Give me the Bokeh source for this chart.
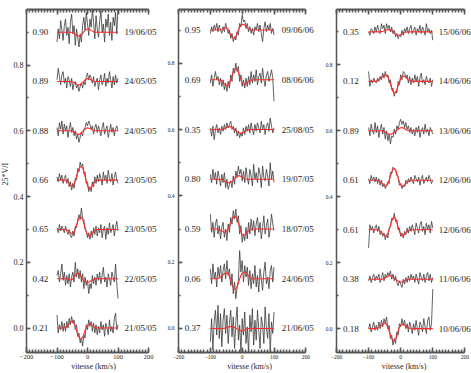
import math
from bokeh.plotting import figure
from bokeh.models import Range1d, LinearAxis, SingleIntervalTicker, PrintfTickFormatter, Label
from bokeh.layouts import row
from bokeh.embed import file_html
from bokeh.resources import INLINE

# ---------------- data ----------------
vel_obs = list(range(-100, 101, 4))   # km/s, observed LSD profiles
vel_fit = list(range(-100, 101, 5))   # km/s, model profiles
offsets = [0.90, 0.75, 0.60, 0.45, 0.30, 0.15, 0.00]   # vertical shifts (25*V/I)
x_ticks_interval = 100
y_ticks_interval = 0.2

p1_phases = ["0.90", "0.89", "0.88", "0.66", "0.65", "0.42", "0.21"]
p1_dates = ["19/06/05", "24/05/05", "24/05/05", "23/05/05", "23/05/05", "22/05/05", "21/05/05"]
p2_phases = ["0.95", "0.69", "0.35", "0.80", "0.59", "0.06", "0.37"]
p2_dates = ["09/06/06", "08/06/06", "25/08/05", "19/07/05", "18/07/05", "24/06/05", "21/06/05"]
p3_phases = ["0.35", "0.12", "0.89", "0.61", "0.61", "0.38", "0.18"]
p3_dates = ["15/06/06", "14/06/06", "13/06/06", "12/06/06", "12/06/06", "11/06/06", "10/06/06"]

# observed profiles, units of 0.001 (25*V/I), relative to their offset
p1_obs = [
    [-30, 10, -20, 35, 5, -25, 20, 40, -10, 15, -35, 30, 55, -5, 20, -40, 10, -15, -45, -5, -30, 20, 45, 5, 60, 25, -10, 40, 15, 70, 30, -20, 50, 10, -15, 35, 65, 0, 25, -30, 40, 15, 55, -10, 30, -25, 45, 20, 60, -5, 75],
    [5, 40, 15, -10, 20, 30, -5, 10, -20, 15, 5, -15, 10, -25, -5, 0, -20, -10, -30, -15, -5, -20, 0, -10, 15, 25, 5, 20, 10, -5, 15, -15, 0, 10, -25, 5, 20, -10, 0, 25, -15, 10, -5, 30, 5, -20, 15, -10, 20, -5, 10],
    [10, -15, 25, 5, 30, -10, 20, 0, 15, -20, 5, 25, -5, 10, -15, 0, -25, -10, -35, -20, -5, -15, 5, 10, 25, 15, 30, 20, 5, 15, -10, 10, 20, -5, 15, 0, -15, 10, 25, -10, 5, 15, -20, 0, 20, -5, 10, -15, 5, 15, 0],
    [10, -5, 20, 0, 15, -10, 5, 15, -10, 5, -20, -5, -30, -10, -25, 5, 0, 35, 25, 55, 40, 50, 20, 25, -10, -5, -35, -20, -35, -5, -20, 10, -10, 15, -5, 20, 5, -15, 25, 0, 15, -10, 30, 5, -5, 20, -15, 10, 25, 0, -10],
    [5, -10, 15, -5, 10, 0, -10, 10, -5, -15, 0, -20, -25, -5, -20, 10, 5, 30, 45, 30, 65, 35, 30, 0, -5, -25, -10, -30, -5, -25, 5, -15, 10, -20, 5, -10, 15, -25, 0, 10, -30, 5, -15, 20, -10, 0, 15, -20, 5, 25, -5],
    [10, 25, -10, 15, 45, -5, 20, -20, 10, -15, 15, -25, 5, 20, -10, 50, 5, 30, 0, 25, -10, 15, -30, 5, -20, -5, -45, -15, -30, 10, -15, 5, -20, 15, -5, 20, -15, 10, 35, -10, 5, -25, 15, 0, -20, 20, 5, -10, 45, -15, -60],
    [40, -15, 10, -5, 20, -10, 15, -10, 20, 0, 30, 10, 35, 15, 25, -5, 10, -25, -15, -45, -30, -55, -20, -30, 10, -5, 25, 5, 20, -10, 15, -15, 10, -20, 5, -15, 20, -5, 10, -25, 15, 0, -20, 25, -10, 5, -15, 30, 45, -5, 10],
]
p2_obs = [
    [-10, 10, -5, 15, 0, 20, -5, 15, 0, -10, 10, -5, 20, 5, -10, 0, -25, -10, -35, -20, -30, -5, -15, 20, 10, 45, 25, 30, 5, 20, -5, 10, -10, 5, -15, 10, 0, 20, -5, 15, -10, -35, 5, 25, -5, 15, 0, 20, -10, 5, -15],
    [-10, 15, -20, 5, 25, 0, 10, -15, 5, -20, 0, -30, -10, -35, -5, -25, 15, -5, 35, 20, 50, 25, 40, -5, 15, -20, 0, -25, 5, -20, 10, -15, 25, -10, 15, -5, 30, -15, 10, 20, -10, 35, 0, -20, 15, 25, -5, 10, 30, 5, -65],
    [5, -20, 10, -30, 0, 15, -10, 5, -15, 10, -5, 15, 0, 20, 5, 15, 25, 0, 10, -10, 5, -20, -5, -25, -10, -20, 5, -15, 10, -5, 15, -10, 20, 0, -15, 15, -5, 20, 5, -10, 25, 0, 15, -15, 10, 20, -5, 35, 10, -10, 5],
    [15, -10, 30, 0, 20, -15, 25, 5, -20, 15, -10, 20, -25, 0, -30, -15, -5, -25, 10, -15, 25, 5, 40, 15, 30, -5, 25, -10, 35, 5, -15, 30, 10, -20, 45, 0, 20, -10, 35, 15, -25, 40, 5, -5, 30, 10, -20, 50, 0, 25, -10],
    [45, -10, 20, -25, 15, 30, -15, 10, -30, 5, 20, -25, 0, -35, 15, -10, 35, 15, 55, 30, 60, 20, 40, -15, 10, -40, -15, -35, 5, -30, 20, -15, 30, -5, 25, -20, 15, 35, -10, 20, -30, 5, 40, -15, 10, 30, -25, 0, 45, 15, -5],
    [30, -15, 45, 0, 20, -25, 35, 5, 40, -10, 25, 45, 0, 55, 10, 30, -20, 15, -45, -10, -60, -25, -5, 85, 20, 55, -10, 40, 5, 35, -20, 25, -30, 15, -15, 40, -25, 10, -40, 30, 0, -35, 20, 50, -15, 5, -30, 25, 40, -10, 35],
    [-40, 30, -65, 20, 55, -20, 70, -30, 45, -55, 25, 60, -15, 40, -45, 15, 55, -25, 35, -60, 20, 65, -35, 10, -70, 30, -20, 50, -45, 5, -75, 40, -10, 60, -50, 25, -35, 55, -5, -60, 35, 10, -45, 65, 0, -30, 45, -70, 20, -15, 50],
]
p3_obs = [
    [0, -10, 10, 5, -5, 15, 0, 20, 5, -5, 25, 10, 20, -5, 25, 10, 20, 0, 15, -5, 5, -15, -5, -20, -10, -15, 5, -10, 10, 0, 15, -5, 10, 20, -5, 5, 15, -10, 10, 0, 20, -5, 15, 5, -10, 25, 0, 10, -5, 5, -25],
    [30, -15, 5, -5, 10, 0, -5, 10, 0, 15, 5, 25, 10, 30, 15, 20, -5, 5, -25, -20, -45, -30, -35, 0, -10, 20, 5, 30, 25, 10, 20, -5, 15, -10, 10, -5, 20, 0, 15, -15, 10, 25, -5, 5, -10, 15, 0, -5, 10, -15, 5],
    [10, -15, 20, 0, -10, 25, -5, 15, -20, 5, 20, -10, 10, -25, 0, -30, -10, -40, -15, -20, 5, -10, 15, 5, 25, 35, 20, 30, 10, 25, 5, 15, -5, 10, -10, 5, -15, 10, -5, 15, -20, 0, 10, -10, 20, -5, 5, -15, 10, 0, -10],
    [5, -10, 15, 0, 10, -5, 10, -10, 5, -15, 0, -20, -10, -25, -15, -5, -10, 25, 20, 40, 35, 30, 15, 10, -15, -10, -25, -15, -20, 0, -10, 5, -5, 10, 0, -10, 15, 5, -5, 10, -15, 5, 15, -10, 0, 10, -5, 15, 5, -10, 0],
    [-55, 15, 0, 10, -10, 5, 15, -5, 10, -15, -5, -20, -10, -30, -15, -25, 5, 10, 35, 30, 50, 25, 30, 0, 5, -20, -10, -25, -5, -15, 5, -10, 10, -5, 15, 0, -15, 20, 5, -10, 15, 25, -5, 10, -15, 20, 0, 15, -10, 25, 5],
    [-5, 10, -10, 5, 15, -5, 10, 0, 15, -10, 5, 20, -5, 15, 5, 20, 10, 25, 0, 15, -5, 10, -10, -20, -5, -15, -25, 0, -15, 5, -10, 10, -5, 15, 0, 10, -10, 15, 0, -15, 20, 5, -5, 15, -10, 10, 20, -5, 15, -10, 5],
    [0, 15, -10, 5, 20, -5, 10, -5, 20, 0, 25, 5, 30, 15, 35, 0, 10, -30, -20, -50, -30, -45, -10, -20, 15, 5, 30, 10, 25, 0, 15, -10, 20, 5, -15, 15, -5, 25, 0, -20, 20, 10, -10, 30, 5, -15, 25, 35, -5, 15, 120],
]

# model (fit) profiles, units of 0.001, on vel_fit grid
p1_fit = [
    [0, 0, 0, 0, 0, 0, 0, 0, 0, 0, -1, -3, -7, -10, -12, -11, -7, -2, 3, 7, 10, 10, 7, 4, 1, 0, 0, 0, 0, 0, 0, 0, 0, 0, 0, 0, 0, 0, 0, 0, 0],
    [0, 0, 0, 0, 0, 0, 0, 0, 0, 0, -1, -3, -6, -9, -11, -10, -6, -2, 3, 6, 9, 8, 6, 3, 1, 0, 0, 0, 0, 0, 0, 0, 0, 0, 0, 0, 0, 0, 0, 0, 0],
    [0, 0, 0, 0, 0, 0, 0, 0, 0, 0, -1, -3, -6, -9, -11, -10, -6, -1, 3, 7, 9, 8, 6, 3, 1, 0, 0, 0, 0, 0, 0, 0, 0, 0, 0, 0, 0, 0, 0, 0, 0],
    [0, 0, 0, 0, 0, 0, -1, -4, -10, -17, -19, -14, -2, 14, 30, 39, 41, 36, 20, 0, -17, -26, -26, -18, -9, -4, -1, 0, 0, 0, 0, 0, 0, 0, 0, 0, 0, 0, 0, 0, 0],
    [0, 0, 0, 0, 0, 0, -1, -3, -7, -11, -13, -9, 2, 16, 30, 37, 37, 28, 12, -5, -17, -20, -17, -11, -6, -2, -1, 0, 0, 0, 0, 0, 0, 0, 0, 0, 0, 0, 0, 0, 0],
    [0, 0, 0, 0, 0, 0, 0, -1, -3, -4, -2, 4, 11, 16, 17, 13, 6, -1, -7, -10, -11, -10, -7, -4, -2, -1, 0, 0, 0, 0, 0, 0, 0, 0, 0, 0, 0, 0, 0, 0, 0],
    [0, 0, 0, 0, 0, 1, 3, 8, 14, 19, 20, 15, 4, -10, -24, -32, -33, -27, -13, 1, 9, 12, 12, 9, 5, 2, 1, 0, 0, 0, 0, 0, 0, 0, 0, 0, 0, 0, 0, 0, 0],
]
p2_fit = [
    [0, 0, 0, 0, 0, 0, 0, 1, 3, 6, 7, 3, -7, -17, -24, -25, -19, -7, 5, 13, 17, 17, 13, 7, 3, 1, 0, 0, 0, 0, 0, 0, 0, 0, 0, 0, 0, 0, 0, 0, 0],
    [0, 0, 0, 0, 0, 0, -1, -3, -8, -13, -17, -17, -10, 3, 18, 30, 34, 30, 17, 2, -9, -15, -14, -10, -5, -2, -1, 0, 0, 0, 0, 0, 0, 0, 0, 0, 0, 0, 0, 0, 0],
    [0, 0, 0, 0, 0, 0, 0, 0, 1, 3, 6, 8, 9, 8, 5, 1, -3, -7, -10, -11, -10, -8, -5, -2, -1, 0, 0, 0, 0, 0, 0, 0, 0, 0, 0, 0, 0, 0, 0, 0, 0],
    [0, 0, 0, 0, 0, 0, 0, -1, -3, -6, -8, -10, -10, -8, -4, 1, 6, 10, 11, 9, 6, 3, 1, 0, 0, 0, 0, 0, 0, 0, 0, 0, 0, 0, 0, 0, 0, 0, 0, 0, 0],
    [0, 0, 0, 0, 0, -1, -3, -6, -9, -10, -8, -2, 8, 21, 32, 38, 37, 28, 12, -5, -17, -20, -17, -10, -5, -2, -1, 0, 0, 0, 0, 0, 0, 0, 0, 0, 0, 0, 0, 0, 0],
    [0, 0, 0, 0, 0, 1, 3, 7, 12, 16, 18, 16, 6, -8, -22, -31, -31, -22, -7, 8, 17, 20, 19, 14, 8, 4, 1, 0, 0, 0, 0, 0, 0, 0, 0, 0, 0, 0, 0, 0, 0],
    [0, 0, 0, 0, 0, 0, 0, 0, 0, 1, 2, 4, 5, 6, 6, 4, 1, -2, -5, -7, -7, -5, -3, -1, 0, 0, 0, 0, 0, 0, 0, 0, 0, 0, 0, 0, 0, 0, 0, 0, 0],
]
p3_fit = [
    [0, 0, 0, 0, 0, 0, 0, 0, 1, 2, 4, 6, 7, 7, 5, 1, -3, -7, -9, -10, -9, -6, -3, -1, 0, 0, 0, 0, 0, 0, 0, 0, 0, 0, 0, 0, 0, 0, 0, 0, 0],
    [0, 0, 0, 0, 0, 1, 3, 7, 12, 16, 19, 19, 14, 2, -14, -29, -36, -33, -20, -4, 8, 15, 16, 13, 8, 4, 2, 1, 0, 0, 0, 0, 0, 0, 0, 0, 0, 0, 0, 0, 0],
    [0, 0, 0, 0, 0, 0, 0, 0, 0, -1, -3, -6, -9, -10, -10, -8, -5, -1, 3, 7, 9, 10, 8, 5, 2, 1, 0, 0, 0, 0, 0, 0, 0, 0, 0, 0, 0, 0, 0, 0, 0],
    [0, 0, 0, 0, 0, 0, -1, -3, -7, -12, -16, -17, -11, 3, 19, 32, 36, 30, 15, -2, -14, -19, -17, -11, -6, -3, -1, 0, 0, 0, 0, 0, 0, 0, 0, 0, 0, 0, 0, 0, 0],
    [0, 0, 0, 0, 0, 0, -1, -3, -8, -13, -18, -19, -12, 3, 20, 34, 38, 31, 15, -2, -14, -19, -17, -11, -6, -3, -1, 0, 0, 0, 0, 0, 0, 0, 0, 0, 0, 0, 0, 0, 0],
    [0, 0, 0, 0, 0, 0, 0, 0, 0, 1, 3, 6, 9, 10, 10, 7, 3, -1, -5, -8, -9, -8, -5, -3, -1, 0, 0, 0, 0, 0, 0, 0, 0, 0, 0, 0, 0, 0, 0, 0, 0],
    [0, 0, 0, 0, 0, 1, 3, 6, 10, 14, 16, 14, 5, -10, -26, -35, -37, -30, -14, 2, 10, 13, 12, 9, 5, 2, 1, 0, 0, 0, 0, 0, 0, 0, 0, 0, 0, 0, 0, 0, 0],
]

# ---------------- styling ----------------
FONT = "Liberation Serif"
AX = "#555555"
TXT = "#1e1e1e"
OBS_COLOR = "#3a3a3a"
FIT_COLOR = "#ff2a2a"
FIG_H = 373


def panel(obs, fit, phases, dates, width, bl, bt, bb, px_per_kms, y0, y1,
          ytick_fs, ytick_standoff, xtick_fs, date_x):
    frame_w = width - bl
    x_end = -200 + frame_w / px_per_kms
    p = figure(width=width, height=FIG_H, x_range=Range1d(-200, x_end),
               y_range=Range1d(y0, y1), x_axis_type=None, y_axis_type=None,
               output_backend="svg", toolbar_location=None,
               min_border_left=bl, min_border_right=0,
               min_border_top=bt, min_border_bottom=bb)
    p.outline_line_color = None

    xcommon = dict(axis_line_color=AX, axis_line_width=2,
                   major_tick_line_color=AX, minor_tick_line_color=AX,
                   major_tick_line_width=1.5, minor_tick_line_width=1.5,
                   major_tick_out=0, minor_tick_out=0, bounds=(-200, 200),
                   major_label_text_font=FONT)
    bottom = LinearAxis(ticker=SingleIntervalTicker(interval=x_ticks_interval, num_minor_ticks=10),
                        major_tick_in=5, minor_tick_in=3, major_label_text_color=TXT,
                        major_label_text_font_size=xtick_fs, major_label_standoff=2,
                        axis_label="vitesse (km/s)", axis_label_text_font=FONT,
                        axis_label_text_font_size="8px", axis_label_text_font_style="normal",
                        axis_label_text_color=TXT, axis_label_standoff=0, **xcommon)
    p.add_layout(bottom, "below")
    top = LinearAxis(ticker=SingleIntervalTicker(interval=x_ticks_interval, num_minor_ticks=10),
                     major_tick_in=5, minor_tick_in=3, major_label_text_color=None,
                     major_label_text_font_size="1px", major_label_standoff=1, **xcommon)
    p.add_layout(top, "above")
    left = LinearAxis(ticker=SingleIntervalTicker(interval=y_ticks_interval, num_minor_ticks=2),
                      formatter=PrintfTickFormatter(format="%.1f"),
                      axis_line_color=AX, axis_line_width=1.5, major_tick_line_color=AX,
                      minor_tick_line_color=AX, major_tick_line_width=1.5,
                      minor_tick_line_width=1.5, major_tick_out=0, minor_tick_out=0,
                      major_tick_in=4, minor_tick_in=2, major_label_text_font=FONT,
                      major_label_text_color=TXT,
                      major_label_text_font_size=ytick_fs, major_label_standoff=ytick_standoff)
    p.add_layout(left, "left")

    for k in range(len(offsets)):
        off = offsets[k]
        p.line(vel_obs, [off + v / 1000.0 for v in obs[k]],
               line_color=OBS_COLOR, line_width=0.8)
        p.line(vel_fit, [off + v / 1000.0 for v in fit[k]],
               line_color=FIT_COLOR, line_width=1.1)
        p.add_layout(Label(x=-180, y=off, text=phases[k], text_font=FONT,
                           text_font_size="9px", text_color=TXT,
                           text_align="left", text_baseline="middle"))
        p.add_layout(Label(x=date_x, y=off, text=dates[k], text_font=FONT,
                           text_font_size="9px", text_color=TXT,
                           text_align="left", text_baseline="middle"))
    return p


# narrow strip carrying the y-axis title
fy = figure(width=10, height=FIG_H, x_range=Range1d(0, 10), y_range=Range1d(FIG_H, 0),
            x_axis_type=None, y_axis_type=None, output_backend="svg",
            toolbar_location=None, min_border=0)
fy.outline_line_color = None
fy.add_layout(Label(x=5, y=179, text="25*V/I", text_font=FONT,
                    text_font_size="8px", text_color=TXT, angle=math.pi / 2,
                    text_align="center", text_baseline="middle"))

f1 = panel(p1_obs, p1_fit, p1_phases, p1_dates, 150, 16, 7, 19, 0.305, -0.0743, 0.969,
           "8px", 3, "6.5px", 121)
f2 = panel(p2_obs, p2_fit, p2_phases, p2_dates, 160, 18, 9, 17, 0.3185, -0.0724, 0.962,
           "5.5px", 4, "5.5px", 124)
f3 = panel(p3_obs, p3_fit, p3_phases, p3_dates, 151, 16, 7, 17, 0.321, -0.0724, 0.968,
           "5.5px", 4, "5.5px", 118.7)

layout = row(fy, f1, f2, f3)
open("out.html", "w").write(file_html(layout, INLINE))
